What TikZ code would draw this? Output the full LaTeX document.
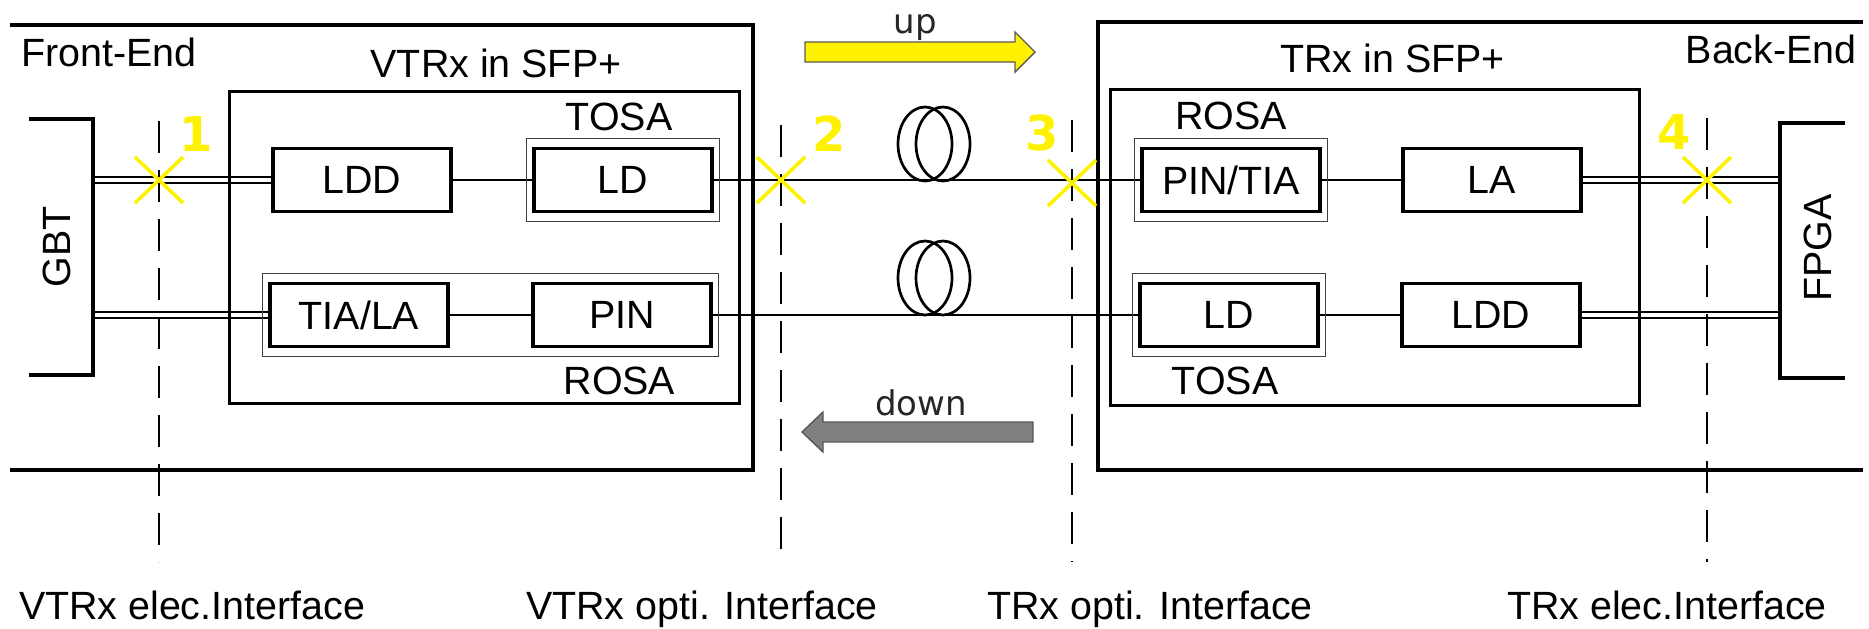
\documentclass[tikz,border=0pt]{standalone}
\usepackage{fontspec}
\setmainfont{Liberation Sans}
\newfontfamily\dejavu{DejaVu Sans}
\usepackage{tikz}
\usetikzlibrary{positioning, fit, backgrounds}

\begin{document}
\begin{tikzpicture}[
  x=0.5pt, y=-0.5pt,
  font=\fontsize{19.7}{23}\selectfont,
  blk/.style={rectangle, draw=black, line width=1.8pt, minimum width=89pt, minimum height=31.5pt, inner sep=0pt},
  pkg/.style={rectangle, draw=black!75, line width=0.6pt, inner xsep=3pt, inner ysep=4.25pt},
  modbox/.style={rectangle, draw=black, line width=1.5pt},
  frame/.style={line width=1.7pt},
  link/.style={line width=1.35pt},
  elink/.style={line width=1.2pt, double, double distance=1.9pt},
  iface/.style={line width=1.3pt, dash pattern=on 16pt off 8.5pt},
  xmark/.style={draw=yellow, line width=1.8pt},
  num/.style={text=yellow, font=\dejavu\bfseries\fontsize{24}{28}\selectfont, inner sep=0pt},
  dirarrow/.style={line width=0.7pt, draw=black!65},
  dirlabel/.style={font=\dejavu\fontsize{17}{20}\selectfont, text=black!85, inner sep=0pt, anchor=base},
  txt/.style={inner sep=0pt, anchor=base}
]
\useasboundingbox (0,0) rectangle (1869,628);

\draw[frame] (10,25) -| (753,470) -- (10,470);
\draw[frame] (1863,22) -| (1098,470) -- (1863,470);
\node (fe) [txt, anchor=base west] at (21,66) {Front-End};
\node (be) [txt, anchor=base east] at (1857,63) {Back-End};

\node (vtrx) [modbox, minimum width=255pt, minimum height=156pt] at (484,247) {};
\node (vtrxt) [above=5.5pt of vtrx, xshift=6pt, inner sep=0pt] {VTRx in SFP+};
\node (trx) [modbox, minimum width=264.5pt, minimum height=158pt] at (1374.5,247) {};
\node (trxt) [above=7pt of trx, xshift=9pt, inner sep=0pt] {TRx in SFP+};

\node (vldd) [blk] at (362,180) {LDD};
\node (vld) [blk] at (623,180) {LD};
\node (vtia) [blk] at (359,315) {TIA/LA};
\node (vpin) [blk] at (622,315) {PIN};
\node (tpin) [blk] at (1231,180) {PIN/TIA};
\node (tla) [blk] at (1492,180) {LA};
\node (tld) [blk] at (1229,315) {LD};
\node (tldd) [blk] at (1491,315) {LDD};

\node (vtosa) [pkg, fit=(vld)] {};
\node (vrosa) [pkg, fit=(vtia)(vpin)] {};
\node (trosa) [pkg, fit=(tpin)] {};
\node (ttosa) [pkg, fit=(tld)] {};
\node (vtosat) [above=3pt of vtosa, xshift=-2pt, inner sep=0pt] {TOSA};
\node (vrosat) [below=4.5pt of vrosa.south east, anchor=north, xshift=-50pt, inner sep=0pt] {ROSA};
\node (trosat) [above=3.5pt of trosa, inner sep=0pt] {ROSA};
\node (ttosat) [below=4.5pt of ttosa, xshift=-2pt, inner sep=0pt] {TOSA};

\draw[frame] (29,119) -| (93,375) -- (29,375);
\draw[frame] (1845,123) -| (1780,378) -- (1845,378);
\node (gbt) [rotate=90, inner sep=0pt] at (57,247) {GBT};
\node (fpga) [rotate=90, inner sep=0pt] at (1818,248) {FPGA};
\coordinate (gbtA) at (93,180);
\coordinate (gbtB) at (93,315);
\coordinate (fpgaA) at (1780,180);
\coordinate (fpgaB) at (1780,315);

\begin{pgfonlayer}{background}
\draw[elink] (gbtA) -- (vldd);
\draw[elink] (gbtB) -- (vtia);
\draw[link] (vldd) -- (vld);
\draw[link] (vtia) -- (vpin);
\draw[link] (vld) -- (tpin);
\draw[link] (vpin) -- (tld);
\draw[link] (tpin) -- (tla);
\draw[link] (tld) -- (tldd);
\draw[elink] (tla) -- (fpgaA);
\draw[elink] (tldd) -- (fpgaB);
\end{pgfonlayer}

\foreach \cx/\cy in {925/144, 943/144, 925/278, 943/278}
  \draw[link] (\cx,\cy) ellipse [x radius=13.5pt, y radius=18.5pt];

\draw[dirarrow, fill=yellow] (805,42) -- (1015,42) -- (1015,32) -- (1035,52) -- (1015,72) -- (1015,62) -- (805,62) -- cycle;
\node (up) [dirlabel] at (915,33) {up};
\draw[dirarrow, fill=black!50] (1033,422) -- (823,422) -- (823,412) -- (802,432) -- (823,452) -- (823,442) -- (1033,442) -- cycle;
\node (down) [dirlabel] at (921,415) {down};

\foreach \x/\ya in {159/121, 781/125, 1072/120, 1707/118}
  \draw[iface] (\x,\ya) -- (\x,562);
\foreach \x/\y in {159/180, 781/180, 1072/183, 1707/180}
  \draw[xmark] (\x-24,\y-23) -- (\x+24,\y+23) (\x-24,\y+23) -- (\x+24,\y-23);
\node (n1) [num] at (196,134) {1};
\node (n2) [num] at (829,134) {2};
\node (n3) [num] at (1042,133) {3};
\node (n4) [num] at (1674,132) {4};

\node (if1) [txt] at (192,619) {VTRx elec.Interface};
\node (if2) [txt] at (702,619) {VTRx opti. Interface};
\node (if3) [txt] at (1150,619) {TRx opti. Interface};
\node (if4) [txt] at (1667,619) {TRx elec.Interface};

\end{tikzpicture}
\end{document}
